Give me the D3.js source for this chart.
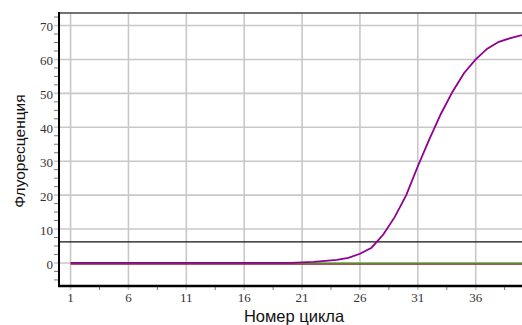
<!DOCTYPE html>
<html>
<head>
<meta charset="utf-8">
<script src="https://cdn.jsdelivr.net/npm/d3@7"></script>
<style>
  body { margin: 0; background: #fff; }
  svg { display: block; }
</style>
</head>
<body>
<div id="chart"></div>
<script>
// cycles and measured fluorescence
var cycles = d3.range(1, 41);
var purpleValues = [0,0,0,0,0,0,0,0,0,0,0,0,0,0,0,0,0,0,0,0,
  0.15,0.3,0.6,0.9,1.5,2.7,4.5,8.3,13.5,20,28.5,36.5,44,50.5,56,60,63.2,65.2,66.3,67.2];
var greenValues = cycles.map(function() { return -0.1; });
var redValues = cycles.map(function() { return -0.35; });
var threshold = 6.2;
var xTicks = [1, 6, 11, 16, 21, 26, 31, 36];
var yTicks = [0, 10, 20, 30, 40, 50, 60, 70];

var W = 522, H = 325;
var serif = "'Liberation Serif', 'DejaVu Serif', serif";
var sans = "'Liberation Sans', Arial, sans-serif";
var svg = d3.select("#chart").append("svg").attr("width", W).attr("height", H);

var x = d3.scaleLinear().domain([0, 40]).range([59, 522]);
var y = d3.scaleLinear().domain([-6.8, 73.7]).range([286, 13]);

// minor ticks
var xMinor = xTicks.map(function(d) { return d + 2.5; });
var yMinor = d3.range(-5, 73, 2.5).filter(function(d) { return yTicks.indexOf(d) === -1; });

// grid
svg.append("g").selectAll("line").data(xTicks).enter().append("line")
  .attr("x1", function(d) { return x(d); }).attr("x2", function(d) { return x(d); })
  .attr("y1", 13).attr("y2", 290)
  .attr("stroke", "#c8c8c8").attr("stroke-width", 1.6);
svg.append("g").selectAll("line").data(yTicks).enter().append("line")
  .attr("x1", 54).attr("x2", W)
  .attr("y1", function(d) { return y(d); }).attr("y2", function(d) { return y(d); })
  .attr("stroke", "#c8c8c8").attr("stroke-width", 1.6);

// minor ticks
svg.append("g").selectAll("line").data(xMinor).enter().append("line")
  .attr("x1", function(d) { return x(d); }).attr("x2", function(d) { return x(d); })
  .attr("y1", 286).attr("y2", 290)
  .attr("stroke", "#777").attr("stroke-width", 1);
svg.append("g").selectAll("line").data(yMinor).enter().append("line")
  .attr("x1", 54).attr("x2", 59)
  .attr("y1", function(d) { return y(d); }).attr("y2", function(d) { return y(d); })
  .attr("stroke", "#777").attr("stroke-width", 1);

// tick labels
svg.append("g").selectAll("text").data(xTicks).enter().append("text")
  .attr("font-family", serif).attr("font-size", 13).attr("fill", "#333")
  .attr("x", function(d) { return x(d); }).attr("y", 302)
  .attr("text-anchor", "middle")
  .text(function(d) { return d; });
svg.append("g").selectAll("text").data(yTicks).enter().append("text")
  .attr("font-family", serif).attr("font-size", 13).attr("fill", "#333")
  .attr("x", 53).attr("y", function(d) { return y(d); })
  .attr("dy", "0.45em")
  .attr("text-anchor", "end")
  .text(function(d) { return d; });

// threshold
svg.append("line")
  .attr("x1", 59).attr("x2", W)
  .attr("y1", y(threshold)).attr("y2", y(threshold))
  .attr("stroke", "#111").attr("stroke-width", 1.4);

var line = d3.line()
  .x(function(d, i) { return x(cycles[i]); })
  .y(function(d) { return y(d); });

svg.append("path").datum(redValues).attr("d", line)
  .attr("fill", "none").attr("stroke", "#8a2020").attr("stroke-width", 1.4);
svg.append("path").datum(greenValues).attr("d", line)
  .attr("fill", "none").attr("stroke", "#5a8a2a").attr("stroke-width", 1.6);
svg.append("path").datum(purpleValues).attr("d", line)
  .attr("fill", "none").attr("stroke", "#900090").attr("stroke-width", 1.8);

// frame
svg.append("line").attr("x1", 59).attr("x2", W).attr("y1", 13).attr("y2", 13)
  .attr("stroke", "#444").attr("stroke-width", 1.5);
svg.append("line").attr("x1", 59).attr("x2", 59).attr("y1", 12).attr("y2", 287)
  .attr("stroke", "#000").attr("stroke-width", 2);
svg.append("line").attr("x1", 58).attr("x2", W).attr("y1", 286).attr("y2", 286)
  .attr("stroke", "#000").attr("stroke-width", 2.5);

// axis titles
svg.append("text")
  .attr("font-family", sans).attr("font-size", 16.5).attr("fill", "#111")
  .attr("x", 294).attr("y", 322)
  .attr("text-anchor", "middle")
  .text("Номер цикла");
svg.append("text")
  .attr("font-family", sans).attr("font-size", 15.5).attr("fill", "#111")
  .attr("transform", "translate(25,151) rotate(-90)")
  .attr("text-anchor", "middle")
  .text("Флуоресценция");
</script>
</body>
</html>
